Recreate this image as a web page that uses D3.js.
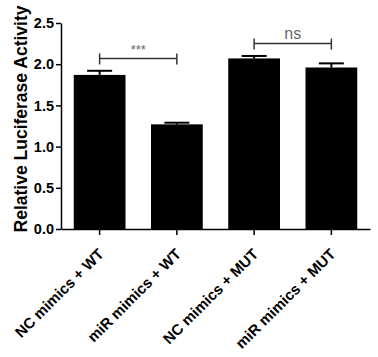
<!DOCTYPE html>
<html>
<head>
<meta charset="utf-8">
<script src="https://cdn.jsdelivr.net/npm/d3@7"></script>
<style>
  html, body { margin: 0; padding: 0; background: #fff; }
  text { font-family: "Liberation Sans", Arial, sans-serif; }
</style>
</head>
<body>
<svg id="chart" width="378" height="357"></svg>
<script>
const categories = ["NC mimics + WT", "miR mimics + WT", "NC mimics + MUT", "miR mimics + MUT"];
const means = [1.87, 1.27, 2.07, 1.96];
const errors = [0.05, 0.02, 0.03, 0.05];
const yTicks = [0.0, 0.5, 1.0, 1.5, 2.0, 2.5];
const brackets = [
  { from: 0, to: 1, y: 2.07, label: "***" },
  { from: 2, to: 3, y: 2.25, label: "ns" }
];

const svg = d3.select("#chart");
const margin = { left: 61, right: 8, top: 23, bottom: 128 };
const W = 378, H = 357;
const x = d3.scaleBand().domain(categories).range([margin.left, W - margin.right]).paddingInner(0.33).paddingOuter(0.165);
const y = d3.scaleLinear().domain([0, 2.5]).range([H - margin.bottom, margin.top]);

// bars
svg.append("g").selectAll("rect").data(categories).join("rect")
  .attr("x", d => x(d))
  .attr("y", (d, i) => y(means[i]))
  .attr("width", x.bandwidth())
  .attr("height", (d, i) => y(0) - y(means[i]))
  .attr("fill", "#000");

// error bars
const eb = svg.append("g").attr("stroke", "#000").attr("stroke-width", 2);
categories.forEach((c, i) => {
  const cx = x(c) + x.bandwidth() / 2;
  eb.append("line").attr("x1", cx).attr("x2", cx).attr("y1", y(means[i])).attr("y2", y(means[i] + errors[i]));
  eb.append("line").attr("x1", cx - 12.5).attr("x2", cx + 12.5).attr("y1", y(means[i] + errors[i])).attr("y2", y(means[i] + errors[i]));
});

// y axis
const yAxis = d3.axisLeft(y).tickValues(yTicks).tickFormat(d3.format(".1f")).tickSize(5).tickSizeOuter(0).tickPadding(2);
const gy = svg.append("g").attr("transform", `translate(${margin.left},0)`).call(yAxis);
gy.select(".domain").attr("stroke", "#000").attr("stroke-width", 1.5);
gy.selectAll(".tick line").attr("stroke", "#000").attr("stroke-width", 1.5);
gy.selectAll(".tick text").attr("font-size", 14.5).attr("font-weight", "bold").attr("fill", "#000")
  .attr("font-family", "'Liberation Sans', Arial, sans-serif");

// x axis
const xAxis = d3.axisBottom(x).tickSize(6).tickSizeOuter(0).tickFormat("");
const gx = svg.append("g").attr("transform", `translate(0,${y(0)})`).call(xAxis);
gx.select(".domain").attr("stroke", "#000").attr("stroke-width", 1.5);
gx.selectAll(".tick line").attr("stroke", "#000").attr("stroke-width", 1.5);

// rotated x labels
svg.append("g").selectAll("text").data(categories).join("text")
  .attr("transform", d => `translate(${x(d) + x.bandwidth() / 2 + 5},${y(0) + 26}) rotate(-45)`)
  .attr("text-anchor", "end")
  .attr("font-size", 15)
  .attr("font-weight", "bold")
  .attr("fill", "#000")
  .text(d => d);

// y title
svg.append("text")
  .attr("transform", `translate(27,119) rotate(-90)`)
  .attr("text-anchor", "middle")
  .attr("font-size", 17.5)
  .attr("font-weight", "bold")
  .attr("fill", "#000")
  .text("Relative Luciferase Activity");

// significance brackets
const bg = svg.append("g");
brackets.forEach(b => {
  const x1 = x(categories[b.from]) + x.bandwidth() / 2;
  const x2 = x(categories[b.to]) + x.bandwidth() / 2;
  const yy = y(b.y);
  bg.append("line").attr("x1", x1).attr("x2", x2).attr("y1", yy).attr("y2", yy).attr("stroke", "#333").attr("stroke-width", 1.5);
  [x1, x2].forEach(xx => bg.append("line").attr("x1", xx).attr("x2", xx).attr("y1", yy - 5).attr("y2", yy + 6).attr("stroke", "#333").attr("stroke-width", 1.5));
  bg.append("text")
    .attr("x", (x1 + x2) / 2)
    .attr("y", b.label === "ns" ? yy - 5 : yy - 4)
    .attr("text-anchor", "middle")
    .attr("font-size", b.label === "ns" ? 16 : 13)
    .attr("fill", "#666")
    .text(b.label);
});
</script>
</body>
</html>
